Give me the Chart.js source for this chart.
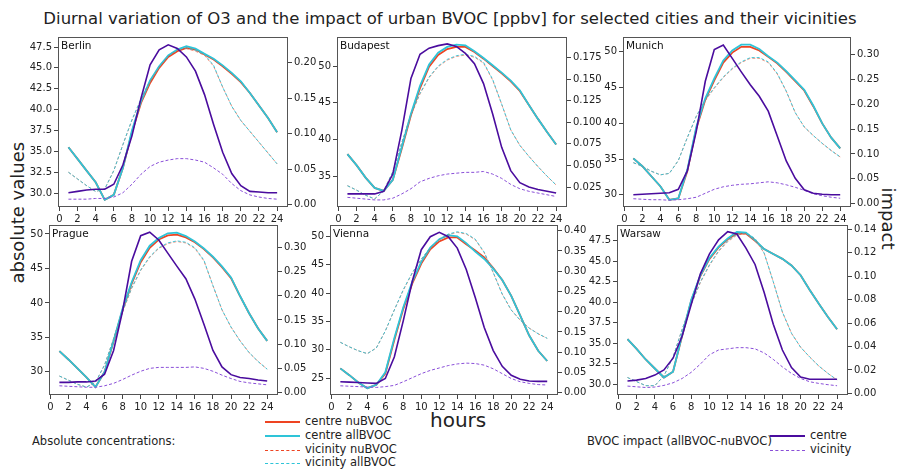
<!DOCTYPE html>
<html><head><meta charset="utf-8">
<script src="https://cdn.jsdelivr.net/npm/chart.js@4"></script>
<style>
body{margin:0;width:900px;height:470px;background:#fff;font-family:"DejaVu Sans",sans-serif;position:relative;overflow:hidden}
canvas{position:absolute}
.t{position:absolute;white-space:nowrap;color:#222}
.lg{position:absolute;height:0;}
</style></head><body>
<div class="t" style="left:0;width:900px;text-align:center;top:9px;font-size:16.5px">Diurnal variation of O3 and the impact of urban BVOC [ppbv] for selected cities and their vicinities</div>
<div class="t" style="left:-48px;top:208px;font-size:18px;transform:rotate(-90deg);width:130px;text-align:center">absolute values</div>
<div class="t" style="left:848px;top:208px;font-size:18px;transform:rotate(90deg);width:80px;text-align:center">impact</div>
<div class="t" style="left:430px;top:408px;font-size:20px">hours</div>
<div class="t" style="left:32px;top:434px;font-size:11.5px">Absolute concentrations:</div>
<div class="t" style="left:587px;top:434px;font-size:11.5px">BVOC impact (allBVOC-nuBVOC)</div>
<div id="leg"></div>
<script>
const hours=[1,2,3,4,5,6,7,8,9,10,11,12,13,14,15,16,17,18,19,20,21,22,23,24];
const cities=["Berlin","Budapest","Munich","Prague","Vienna","Warsaw"];
// centre allBVOC
const cAll={
Berlin:[35.5,34.1,32.7,31.3,29.2,29.8,33,37.5,41,43.5,45.2,46.5,47.2,47.6,47.3,46.7,46.1,45.3,44.4,43.4,42,40.5,39,37.3],
Budapest:[38,36.5,34.8,33.4,33,34.5,39,43.5,47.3,50.2,51.8,52.6,52.9,52.8,52,51.1,50.1,49.1,48,46.7,44.7,42.8,41,39.3],
Munich:[35.1,34,32.6,31.2,29.3,29.5,33.5,39.5,43.5,46.3,48.8,50.2,51,51,50.4,49.4,48.5,47.3,46,44.7,42.5,40,38,36.5],
Prague:[33,31.8,30.5,29.2,27.8,30,34.5,39.2,43,46.2,48.3,49.4,50.1,50.2,49.7,48.9,47.9,46.7,45.3,43.7,41,38.5,36.3,34.5],
Vienna:[26.7,25.5,24.2,23.2,23.8,26,32,37.5,42,45.5,48,49.5,50.2,50,48.8,47.3,46,44.3,42.3,39.5,36,32.5,29.8,28],
Warsaw:[35.5,34.3,33,31.9,30.8,31.5,36,40.3,43.3,45.4,46.8,47.8,48.6,48.5,47.6,46.5,45.9,45.3,44.5,43.3,41.5,39.8,38.2,36.7]};
// centre nuBVOC
const cNu={
Berlin:[35.5,34.1,32.7,31.3,29.2,29.8,33,37.3,40.8,43.2,45,46.3,47,47.4,47.2,46.6,46,45.2,44.3,43.3,42,40.5,39,37.3],
Budapest:[38,36.5,34.8,33.4,33,34.5,38.8,43.3,47,49.9,51.5,52.3,52.6,52.6,51.9,51,50,49,47.9,46.6,44.7,42.8,41,39.3],
Munich:[35.1,34,32.6,31.2,29.3,29.5,33.3,39.3,43.3,46,48.5,49.9,50.7,50.7,50.2,49.3,48.4,47.2,45.9,44.6,42.4,40,38,36.5],
Prague:[33,31.8,30.5,29.2,27.8,30,34.4,39,42.8,45.9,48,49.2,49.8,49.9,49.5,48.8,47.8,46.6,45.2,43.6,41,38.5,36.3,34.5],
Vienna:[26.7,25.5,24.2,23.2,23.8,25.8,31.7,37.2,41.7,45.2,47.7,49.1,49.8,49.8,48.6,47.5,46.3,44.4,42.3,39.5,36,32.5,29.8,28],
Warsaw:[35.5,34.3,33,31.9,30.8,31.5,35.9,40.2,43.2,45.3,46.7,47.7,48.4,48.4,47.5,46.5,45.9,45.3,44.5,43.3,41.5,39.8,38.2,36.7]};
// vicinity allBVOC
const vAll={
Berlin:[32.5,31.7,30.9,30.2,30.5,32.7,35.8,38.8,41.3,43.5,45.2,46.5,47.2,47.4,47.1,46.6,45.3,42.7,40.4,38.7,37.4,36.1,34.8,33.5],
Budapest:[33.7,33.1,32.4,31.9,33,35.6,39.6,43.4,46.3,48.5,50,50.9,51.4,51.6,51.3,50.5,48.2,44.8,41.3,39.2,37.7,36.3,35,33.8],
Munich:[34.5,34,33.3,32.8,33,34.8,38,41,43.3,45,46.5,47.7,48.6,49.2,49.2,48.6,47,44.5,41.5,39.5,38.3,37.2,36.2,35.3],
Prague:[29.4,28.8,28.2,27.8,28.5,31,34.8,38.8,42.2,44.8,46.7,48,48.7,49,48.8,48,46.2,42.5,39,36.5,34.5,32.8,31.5,30.4],
Vienna:[31.3,30.5,29.8,29.3,30.3,33.3,37,40.6,43.6,46,48,49.5,50.4,50.8,50.5,49.5,47.2,43.6,39.8,37,35.2,33.8,32.8,32],
Warsaw:[30.8,30.3,29.8,29.8,31,33.3,36.7,39.8,42.5,44.6,46.3,47.5,48.3,48.5,47.8,46,42.5,38.8,36.2,34.5,33.3,32.2,31.3,30.5]};
// vicinity nuBVOC
const vNu={
Berlin:[32.5,31.7,30.9,30.2,30.5,32.7,35.8,38.7,41.2,43.4,45.1,46.4,47.1,47.3,47,46.5,45.2,42.7,40.4,38.7,37.4,36.1,34.8,33.5],
Budapest:[33.7,33.1,32.4,31.9,33,35.6,39.6,43.3,46.2,48.4,49.9,50.8,51.3,51.5,51.2,50.4,48.1,44.8,41.3,39.2,37.7,36.3,35,33.8],
Munich:[34.5,34,33.3,32.8,33,34.8,38,41,43.2,44.9,46.4,47.6,48.5,49.1,49.1,48.5,46.9,44.5,41.5,39.5,38.3,37.2,36.2,35.3],
Prague:[29.4,28.8,28.2,27.8,28.5,31,34.8,38.7,42.1,44.7,46.6,47.9,48.6,48.9,48.7,47.9,46.1,42.5,39,36.5,34.5,32.8,31.5,30.4],
Vienna:[31.3,30.5,29.8,29.3,30.3,33.3,37,40.5,43.5,45.9,47.9,49.4,50.3,50.7,50.4,49.4,47.1,43.6,39.8,37,35.2,33.8,32.8,32],
Warsaw:[30.8,30.3,29.8,29.8,31,33.3,36.7,39.7,42.4,44.5,46.2,47.4,48.2,48.4,47.7,46,42.5,38.8,36.2,34.5,33.3,32.2,31.3,30.5]};
// impact centre
const iC={
Berlin:[0.017,0.019,0.021,0.022,0.022,0.029,0.056,0.097,0.150,0.197,0.218,0.225,0.220,0.208,0.188,0.155,0.113,0.074,0.044,0.027,0.019,0.018,0.017,0.017],
Budapest:[0.017,0.017,0.017,0.017,0.020,0.040,0.091,0.151,0.179,0.186,0.189,0.191,0.188,0.180,0.168,0.145,0.110,0.071,0.044,0.030,0.025,0.022,0.020,0.018],
Munich:[0.018,0.019,0.020,0.021,0.022,0.029,0.066,0.146,0.246,0.310,0.319,0.292,0.265,0.239,0.216,0.186,0.136,0.086,0.051,0.028,0.021,0.019,0.018,0.018],
Prague:[0.021,0.021,0.022,0.022,0.024,0.038,0.087,0.169,0.271,0.324,0.331,0.315,0.288,0.261,0.235,0.193,0.141,0.087,0.053,0.037,0.031,0.029,0.026,0.024],
Vienna:[0.027,0.026,0.025,0.024,0.023,0.035,0.088,0.178,0.275,0.353,0.385,0.396,0.385,0.357,0.304,0.235,0.161,0.104,0.065,0.043,0.033,0.029,0.028,0.028],
Warsaw:[0.0105,0.0113,0.0127,0.0156,0.020,0.030,0.049,0.076,0.102,0.119,0.131,0.138,0.136,0.124,0.110,0.086,0.059,0.037,0.022,0.014,0.012,0.012,0.012,0.012]};
// impact vicinity
const iV={
Berlin:[0.008,0.008,0.008,0.009,0.009,0.011,0.017,0.029,0.043,0.054,0.060,0.063,0.065,0.065,0.063,0.060,0.052,0.043,0.030,0.020,0.014,0.011,0.009,0.008],
Budapest:[0.013,0.012,0.011,0.010,0.010,0.012,0.017,0.023,0.031,0.035,0.038,0.040,0.041,0.042,0.042,0.043,0.040,0.035,0.028,0.023,0.020,0.018,0.016,0.014],
Munich:[0.010,0.009,0.008,0.008,0.007,0.008,0.010,0.013,0.021,0.029,0.034,0.037,0.039,0.040,0.042,0.044,0.042,0.038,0.033,0.027,0.020,0.016,0.013,0.011],
Prague:[0.014,0.013,0.012,0.011,0.011,0.014,0.019,0.027,0.036,0.044,0.050,0.052,0.052,0.052,0.052,0.053,0.050,0.044,0.036,0.029,0.023,0.020,0.018,0.016],
Vienna:[0.017,0.016,0.015,0.014,0.013,0.015,0.018,0.027,0.037,0.047,0.055,0.061,0.067,0.071,0.073,0.072,0.068,0.059,0.047,0.035,0.027,0.023,0.020,0.019],
Warsaw:[0.0062,0.0056,0.005,0.0054,0.0068,0.009,0.0127,0.018,0.025,0.033,0.037,0.038,0.039,0.039,0.038,0.0345,0.029,0.0226,0.017,0.0127,0.0099,0.0085,0.0074,0.0065]};
const leftRange={Berlin:[28.34,48.7,2.5],Budapest:[30.8,53.95,5],Munich:[28.3,52.08,5],Prague:[26.65,51.3,5],Vienna:[22,52,5],Warsaw:[28.66,49.44,2.5]};
const rightRange={Berlin:[-0.003,0.236,0.05,2],Budapest:[0.0018,0.199,0.025,3],Munich:[-0.0066,0.335,0.05,2],Prague:[-0.005,0.346,0.05,2],Vienna:[-0.0057,0.414,0.05,2],Warsaw:[-0.0014,0.1437,0.02,2]};
const boxes={Berlin:[58,288,35,207],Budapest:[337,567,35,207],Munich:[623,851,35,207],Prague:[49,278,223,395],Vienna:[330,558,223,395],Warsaw:[617,848,223,395]};
const RED="#ee4422",CYAN="#2ec4d8",PUR="#4a0c9e",PUR2="#8a4fd8";
const frame={id:"frame",afterDraw(c,a,o){const ca=c.chartArea,x=c.ctx;x.save();x.strokeStyle="#555";x.lineWidth=1;x.strokeRect(ca.left+0.5,ca.top+0.5,ca.right-ca.left-1,ca.bottom-ca.top-1);x.fillStyle="#111";x.font="10.5px 'DejaVu Sans'";x.textBaseline="top";x.fillText(o.name,ca.left+3,ca.top+4);x.restore();}};
Chart.register(frame);
cities.forEach(city=>{
 const [L,R,T,B]=boxes[city];
 const cv=document.createElement("canvas");
 const W=R-L+100,H=B-T+6+22;
 cv.width=W;cv.height=H;cv.style.left=(L-50)+"px";cv.style.top=(T-6)+"px";
 document.body.appendChild(cv);
 const pts=a=>hours.map((h,i)=>({x:h,y:a[i]}));
 const ds=(a,col,w,dash,ax)=>({data:pts(a),borderColor:col,borderWidth:w,borderDash:dash,yAxisID:ax,pointRadius:0,fill:false,tension:0});
 const lr=leftRange[city],rr=rightRange[city];
 const tk={color:"#222",font:{size:10,family:"DejaVu Sans"},padding:2};
 new Chart(cv,{type:"line",data:{datasets:[
  ds(iC[city],PUR,1.6,[],"y2"),
  ds(iV[city],PUR2,1,[3,2],"y2"),
  ds(vAll[city],CYAN,0.9,[3,2],"y"),
  ds(vNu[city],RED,0.6,[3,2],"y"),
  ds(cAll[city],CYAN,1.8,[],"y"),
  ds(cNu[city],RED,1.8,[],"y")]},
 options:{responsive:false,animation:false,devicePixelRatio:1,
  layout:{padding:{top:6,left:0,right:0,bottom:0}},
  plugins:{legend:{display:false},tooltip:{enabled:false},frame:{name:city}},
  scales:{
   x:{type:"linear",min:-0.15,max:25.2,afterFit(s){s.height=22;},
      afterBuildTicks(s){s.ticks=[0,2,4,6,8,10,12,14,16,18,20,22,24].map(v=>({value:v}));},
      ticks:{...tk,maxRotation:0,autoSkip:false},grid:{drawOnChartArea:false,tickLength:4,color:"#444"},border:{display:false}},
   y:{position:"left",min:lr[0],max:lr[1],afterFit(s){s.width=50;},
      afterBuildTicks(s){const t=[];for(let v=Math.ceil(lr[0]/lr[2])*lr[2];v<=lr[1]+1e-9;v+=lr[2])t.push({value:v});s.ticks=t;},
      ticks:{...tk,callback:v=>lr[2]===2.5?v.toFixed(1):String(Math.round(v))},grid:{drawOnChartArea:false,tickLength:4,color:"#444"},border:{display:false}},
   y2:{position:"right",min:rr[0],max:rr[1],afterFit(s){s.width=50;},
      afterBuildTicks(s){const t=[];for(let v=Math.ceil((rr[0]-1e-9)/rr[2])*rr[2];v<=rr[1]+1e-9;v+=rr[2])t.push({value:Math.abs(v)<1e-9?0:v});s.ticks=t;},
      ticks:{...tk,callback:v=>v.toFixed(rr[3])},grid:{drawOnChartArea:false,tickLength:4,color:"#444"},border:{display:false}}
  }}});
});
// legends
const leg=[[265,422,RED,2,false,"centre nuBVOC"],[265,436,CYAN,2.5,false,"centre allBVOC"],[265,450,RED,1,true,"vicinity nuBVOC"],[265,463,CYAN,1,true,"vicinity allBVOC"],[770,436,PUR,2,false,"centre"],[770,450,PUR2,1,true,"vicinity"]];
const lg=document.getElementById("leg");
leg.forEach(([x,y,c,w,d,t])=>{
 const l=document.createElement("div");l.className="lg";
 l.style.cssText=`left:${x}px;top:${y-w/2}px;width:35px;border-top:${w}px ${d?"dashed":"solid"} ${c}`;
 lg.appendChild(l);
 const s=document.createElement("div");s.className="t";s.textContent=t;
 s.style.cssText=`left:${x+40}px;top:${y-8}px;font-size:11.5px`;lg.appendChild(s);
});
</script></body></html>
